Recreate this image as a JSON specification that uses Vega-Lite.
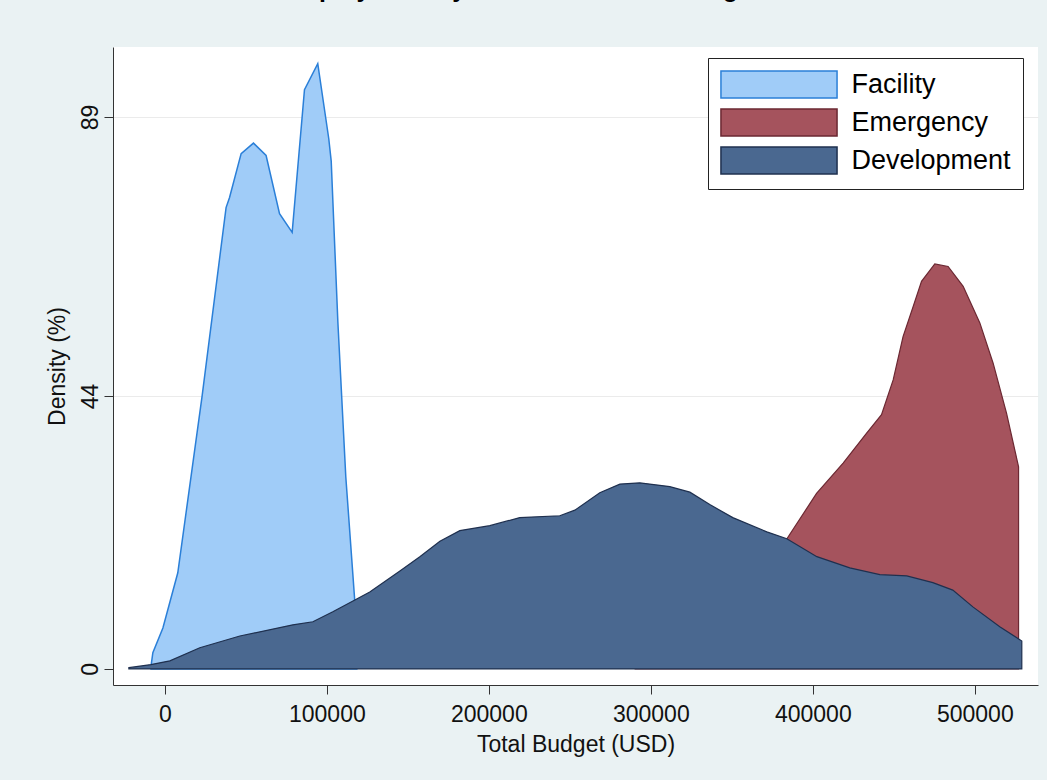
{
  "$schema": "https://vega.github.io/schema/vega-lite/v6.json",
  "width": 925,
  "height": 638,
  "autosize": {"type": "none"},
  "padding": {"left": 113, "top": 47, "right": 9, "bottom": 95},
  "background": "#eaf2f3",
  "title": {
    "text": "Deployment by Sector and Total Budget",
    "anchor": "start",
    "dx": 241,
    "offset": 25,
    "baseline": "alphabetic",
    "fontSize": 25,
    "font": "Liberation Sans",
    "fontWeight": "bold",
    "color": "#000000"
  },
  "config": {
    "font": "Liberation Sans",
    "view": {"fill": "white", "stroke": null}
  },
  "data": {
    "values": [
      {"type": "Facility", "budget": -8500, "density": 0},
      {"type": "Facility", "budget": -8400, "density": 0.7},
      {"type": "Facility", "budget": -7400, "density": 2.6},
      {"type": "Facility", "budget": -1200, "density": 6.6},
      {"type": "Facility", "budget": 8000, "density": 15.5},
      {"type": "Facility", "budget": 23000, "density": 44},
      {"type": "Facility", "budget": 37800, "density": 74.4},
      {"type": "Facility", "budget": 39900, "density": 76.0},
      {"type": "Facility", "budget": 47100, "density": 83.1},
      {"type": "Facility", "budget": 54700, "density": 84.8},
      {"type": "Facility", "budget": 62500, "density": 82.8},
      {"type": "Facility", "budget": 70800, "density": 73.4},
      {"type": "Facility", "budget": 78600, "density": 70.4},
      {"type": "Facility", "budget": 86200, "density": 93.4},
      {"type": "Facility", "budget": 94400, "density": 97.6},
      {"type": "Facility", "budget": 101200, "density": 85.5},
      {"type": "Facility", "budget": 102700, "density": 81.9},
      {"type": "Facility", "budget": 106800, "density": 56},
      {"type": "Facility", "budget": 111700, "density": 31},
      {"type": "Facility", "budget": 117100, "density": 11.5},
      {"type": "Facility", "budget": 118500, "density": 0},
      {"type": "Emergency", "budget": 290000, "density": 0},
      {"type": "Emergency", "budget": 330000, "density": 4},
      {"type": "Emergency", "budget": 370000, "density": 15},
      {"type": "Emergency", "budget": 383800, "density": 20.9},
      {"type": "Emergency", "budget": 402300, "density": 28.3},
      {"type": "Emergency", "budget": 418700, "density": 33.2},
      {"type": "Emergency", "budget": 433100, "density": 38.0},
      {"type": "Emergency", "budget": 442400, "density": 41.0},
      {"type": "Emergency", "budget": 449600, "density": 46.6},
      {"type": "Emergency", "budget": 455700, "density": 53.6},
      {"type": "Emergency", "budget": 461900, "density": 58.4},
      {"type": "Emergency", "budget": 467100, "density": 62.5},
      {"type": "Emergency", "budget": 475300, "density": 65.3},
      {"type": "Emergency", "budget": 483500, "density": 64.9},
      {"type": "Emergency", "budget": 492800, "density": 61.7},
      {"type": "Emergency", "budget": 503100, "density": 55.8},
      {"type": "Emergency", "budget": 511300, "density": 49.3},
      {"type": "Emergency", "budget": 519600, "density": 41.2},
      {"type": "Emergency", "budget": 527000, "density": 32.6},
      {"type": "Development", "budget": -22200, "density": 0.2},
      {"type": "Development", "budget": -8600, "density": 0.7},
      {"type": "Development", "budget": 3100, "density": 1.3},
      {"type": "Development", "budget": 21600, "density": 3.4},
      {"type": "Development", "budget": 46300, "density": 5.3},
      {"type": "Development", "budget": 79000, "density": 7.1},
      {"type": "Development", "budget": 91400, "density": 7.6},
      {"type": "Development", "budget": 103700, "density": 9.2},
      {"type": "Development", "budget": 117300, "density": 11.1},
      {"type": "Development", "budget": 126500, "density": 12.4},
      {"type": "Development", "budget": 145100, "density": 15.8},
      {"type": "Development", "budget": 157400, "density": 18.1},
      {"type": "Development", "budget": 169800, "density": 20.6},
      {"type": "Development", "budget": 182100, "density": 22.3},
      {"type": "Development", "budget": 200600, "density": 23.1},
      {"type": "Development", "budget": 219100, "density": 24.4},
      {"type": "Development", "budget": 243800, "density": 24.7},
      {"type": "Development", "budget": 253100, "density": 25.6},
      {"type": "Development", "budget": 268500, "density": 28.4},
      {"type": "Development", "budget": 280900, "density": 29.8},
      {"type": "Development", "budget": 293200, "density": 30.0},
      {"type": "Development", "budget": 311700, "density": 29.4},
      {"type": "Development", "budget": 324100, "density": 28.5},
      {"type": "Development", "budget": 336400, "density": 26.5},
      {"type": "Development", "budget": 350600, "density": 24.4},
      {"type": "Development", "budget": 371600, "density": 22.1},
      {"type": "Development", "budget": 383950, "density": 21.0},
      {"type": "Development", "budget": 402500, "density": 18.1},
      {"type": "Development", "budget": 422800, "density": 16.3},
      {"type": "Development", "budget": 441400, "density": 15.2},
      {"type": "Development", "budget": 458000, "density": 15.0},
      {"type": "Development", "budget": 474100, "density": 13.9},
      {"type": "Development", "budget": 486400, "density": 12.7},
      {"type": "Development", "budget": 498800, "density": 10.0},
      {"type": "Development", "budget": 515400, "density": 6.8},
      {"type": "Development", "budget": 527800, "density": 4.7},
      {"type": "Development", "budget": 529000, "density": 4.5}
    ]
  },
  "encoding": {
    "x": {
      "field": "budget",
      "type": "quantitative",
      "scale": {"domain": [-32000, 539000], "nice": false, "zero": false},
      "axis": {
        "values": [0, 100000, 200000, 300000, 400000, 500000],
        "format": "d",
        "title": "Total Budget (USD)",
        "grid": false,
        "tickSize": 9,
        "labelPadding": 9,
        "labelFontSize": 23,
        "labelColor": "#111111",
        "titleFontSize": 23,
        "titleFontWeight": "normal",
        "titleColor": "#111111",
        "titlePadding": 7,
        "labelFlush": false,
        "labelOverlap": false,
        "domainColor": "#333333",
        "tickColor": "#333333"
      }
    },
    "y": {
      "field": "density",
      "type": "quantitative",
      "scale": {"domain": [-2.6, 100.3], "nice": false, "zero": false},
      "axis": {
        "values": [0, 44, 89],
        "title": "Density (%)",
        "labelAngle": -90,
        "labelAlign": "center",
        "labelBaseline": "alphabetic",
        "tickSize": 9,
        "labelPadding": 7,
        "labelFontSize": 23,
        "labelColor": "#111111",
        "titleFontSize": 23,
        "titleFontWeight": "normal",
        "titleColor": "#111111",
        "titlePadding": 10,
        "gridColor": {"condition": {"test": "datum.value === 0", "value": "transparent"}, "value": "#ebebeb"},
        "domainColor": "#333333",
        "tickColor": "#333333"
      }
    },
    "fill": {
      "field": "type",
      "type": "nominal",
      "scale": {"domain": ["Facility", "Emergency", "Development"], "range": ["#a0ccf8", "#a5535d", "#4a6890"]},
      "legend": {
        "orient": "none",
        "legendX": 595,
        "legendY": 11,
        "title": null,
        "symbolType": "M-4.3,-1H4.3V1H-4.3Z",
        "symbolSize": 729,
        "symbolStrokeWidth": 1.5,
        "symbolOpacity": 1,
        "symbolOffset": 44.5,
        "labelOffset": 58,
        "labelFontSize": 27,
        "labelColor": "#000000",
        "labelLimit": 400,
        "rowPadding": 5,
        "padding": 12,
        "strokeColor": "#222222",
        "fillColor": "white"
      }
    },
    "stroke": {
      "field": "type",
      "type": "nominal",
      "scale": {"domain": ["Facility", "Emergency", "Development"], "range": ["#2a7fd8", "#6b2832", "#1f304f"]},
      "legend": {
        "orient": "none",
        "legendX": 595,
        "legendY": 11,
        "title": null,
        "symbolType": "M-4.3,-1H4.3V1H-4.3Z",
        "symbolSize": 729,
        "symbolStrokeWidth": 1.5,
        "symbolOpacity": 1,
        "symbolOffset": 44.5,
        "labelOffset": 58,
        "labelFontSize": 27,
        "labelColor": "#000000",
        "labelLimit": 400,
        "rowPadding": 5,
        "padding": 12,
        "strokeColor": "#222222",
        "fillColor": "white"
      }
    }
  },
  "layer": [
    {
      "transform": [{"filter": "datum.type === 'Facility'"}],
      "mark": {"type": "area", "opacity": 1, "strokeWidth": 1.5, "stroke": "#2a7fd8"}
    },
    {
      "transform": [{"filter": "datum.type === 'Emergency'"}],
      "mark": {"type": "area", "opacity": 1, "strokeWidth": 1.2}
    },
    {
      "transform": [{"filter": "datum.type === 'Development'"}],
      "mark": {"type": "area", "opacity": 1, "strokeWidth": 1.2}
    }
  ]
}
